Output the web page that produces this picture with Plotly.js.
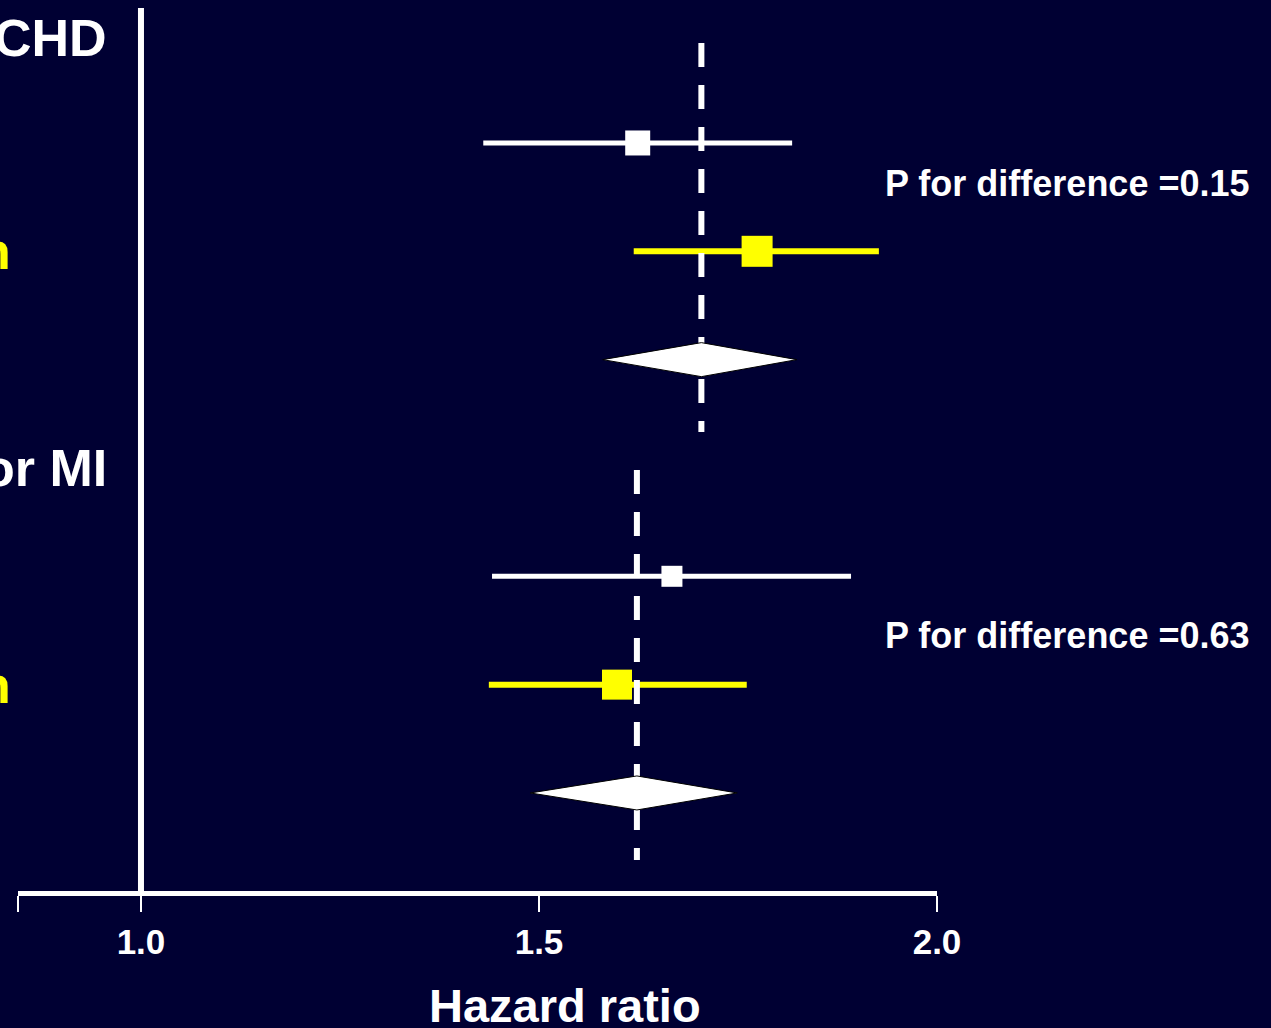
<!DOCTYPE html>
<html>
<head>
<meta charset="utf-8">
<script src="https://cdn.plot.ly/plotly-3.0.1.min.js"></script>
<style>html,body{margin:0;padding:0;background:#000033;}</style>
</head>
<body>
<div id="chart" style="width:1271px;height:1028px;"></div>
<script>
// ---------- data ----------
const outcomes = ['CHD', 'or MI'];            // visible parts of the outcome headers
const subgroupLabels = ['', 'n'];              // visible parts of subgroup labels (white, yellow)
const hrEst  = [1.624, 1.774, 1.667, 1.598];   // outcome1: white, yellow; outcome2: white, yellow
const hrLow  = [1.430, 1.619, 1.441, 1.437];
const hrHigh = [1.818, 1.927, 1.892, 1.761];
const pooledEst  = [1.704, 1.623];
const pooledLow  = [1.580, 1.489];
const pooledHigh = [1.824, 1.749];
const pDifference = ['0.15', '0.63'];
const xTickVals = [1.0, 1.5, 2.0];
const xTickText = ['1.0', '1.5', '2.0'];

// ---------- style / layout ----------
const BG = '#000033';
const colors = ['#ffffff', '#ffff00'];
const markerSizes = [25, 31, 21, 30];
const ciWidths = [5, 6];
const FONT = 'Liberation Sans, Arial, Helvetica, sans-serif';
const xRange = [0.8455, 2.0];
const yRange = [7.905, -0.246];
const W = 1271, H = 1028, ML = 18, MR = 334, MT = 8, MB = 137;
const plotW = W - ML - MR, plotH = H - MT - MB;
const pxX = px => (px - ML) / plotW;
const pxY = py => (H - MB - py) / plotH;

const dashSpans = [[0.077, 3.668], [4.019, 7.619]];
const headerPos = [0.03, 4.0];
const pPos = [1.378, 5.542];
const diamondHalf = 0.157;

const traces = [];
// confidence interval lines
hrEst.forEach((e, i) => {
  const k = Math.floor(i / 2), j = i % 2;
  const r = 4 * k + 1 + j;
  traces.push({type: 'scatter', mode: 'lines', x: [hrLow[i], hrHigh[i]], y: [r, r],
    line: {color: colors[j], width: ciWidths[j]}, hoverinfo: 'skip', showlegend: false});
});
// dashed pooled-estimate lines
pooledEst.forEach((p, k) => {
  traces.push({type: 'scatter', mode: 'lines', x: [p, p], y: dashSpans[k],
    line: {color: '#ffffff', width: 6, dash: '24px,18px'}, hoverinfo: 'skip', showlegend: false});
});
// point estimates
hrEst.forEach((e, i) => {
  const k = Math.floor(i / 2), j = i % 2;
  const r = 4 * k + 1 + j;
  traces.push({type: 'scatter', mode: 'markers', x: [e], y: [r],
    marker: {symbol: 'square', size: markerSizes[i], color: colors[j], line: {width: 0}},
    hoverinfo: 'x', showlegend: false});
});
// pooled diamonds
pooledEst.forEach((p, k) => {
  const r = 4 * k + 3;
  traces.push({type: 'scatter', mode: 'lines', fill: 'toself',
    x: [pooledLow[k], p, pooledHigh[k], p, pooledLow[k]],
    y: [r, r - diamondHalf, r, r + diamondHalf, r],
    fillcolor: '#ffffff', line: {color: '#000000', width: 1}, hoverinfo: 'skip', showlegend: false});
});

const annotations = [];
outcomes.forEach((t, k) => {
  annotations.push({text: t, xref: 'paper', yref: 'y', x: pxX(109), y: headerPos[k],
    xanchor: 'right', yanchor: 'middle', showarrow: false,
    font: {family: FONT, size: 52, color: '#ffffff', weight: 'bold'}});
  subgroupLabels.forEach((s, j) => {
    if (!s) return;
    annotations.push({text: s, xref: 'paper', yref: 'y', x: pxX(13), y: 4 * k + 1 + j,
      xanchor: 'right', yanchor: 'middle', showarrow: false,
      font: {family: FONT, size: 52, color: colors[j], weight: 'bold'}});
  });
  annotations.push({text: 'P for difference =' + pDifference[k], xref: 'paper', yref: 'y',
    x: pxX(883), y: pPos[k], xanchor: 'left', yanchor: 'middle', showarrow: false,
    font: {family: FONT, size: 36, color: '#ffffff', weight: 'bold'}});
});
annotations.push({text: 'Hazard ratio', xref: 'paper', yref: 'paper', x: pxX(565), y: pxY(1005),
  xanchor: 'center', yanchor: 'middle', showarrow: false,
  font: {family: FONT, size: 47, color: '#ffffff', weight: 'bold'}});

const layout = {
  width: W, height: H,
  margin: {l: ML, r: MR, t: MT, b: MB, pad: 0},
  paper_bgcolor: BG, plot_bgcolor: BG,
  showlegend: false,
  xaxis: {
    range: xRange, showgrid: false, zeroline: false,
    showline: true, linecolor: '#ffffff', linewidth: 5,
    ticks: 'outside', ticklen: 16, tickwidth: 2, tickcolor: '#ffffff',
    tickvals: [xRange[0]].concat(xTickVals), ticktext: [''].concat(xTickText),
    tickfont: {family: FONT, size: 35, color: '#ffffff', weight: 'bold'},
    fixedrange: true
  },
  yaxis: {range: yRange, visible: false, showgrid: false, zeroline: false, fixedrange: true},
  shapes: [{type: 'line', xref: 'x', yref: 'paper', x0: 1, x1: 1, y0: 0, y1: 1,
    line: {color: '#ffffff', width: 6}, layer: 'below'}],
  annotations: annotations
};

Plotly.newPlot('chart', traces, layout, {displayModeBar: false, staticPlot: true});
</script>
</body>
</html>
